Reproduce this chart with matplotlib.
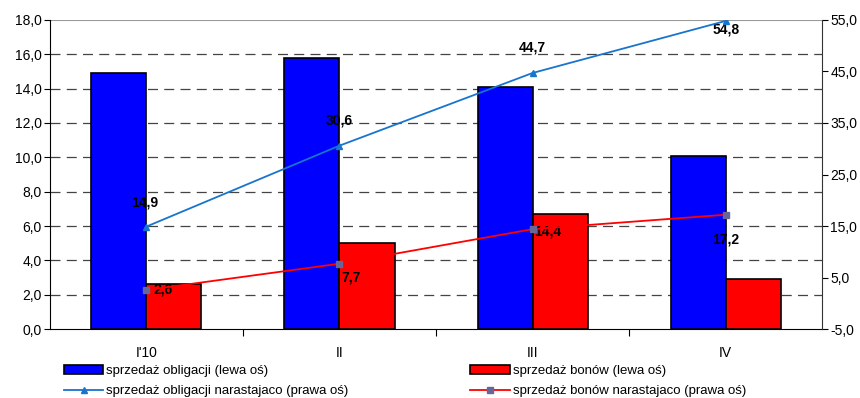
import numpy as np
import matplotlib.pyplot as plt

# Dane
kwartaly = ["I'10", "II", "III", "IV"]
obligacje = [14.9, 15.8, 14.1, 10.1]
bony = [2.6, 5.0, 6.7, 2.9]
obligacje_nar = [14.9, 30.6, 44.7, 54.8]
bony_nar = [2.6, 7.7, 14.4, 17.2]

# przesunięcia etykiet (w punktach)
off_obl = [(-1, 17), (0, 18), (0, 18), (0, -6)]
off_bon = [(12, 0), (8, -10), (11, -2), (0, -18)]

plt.rcParams['font.family'] = ['Liberation Sans', 'DejaVu Sans']

fig = plt.figure(figsize=(8.6, 3.98), dpi=100)
ax = fig.add_axes([0.058, 0.173, 0.898, 0.777])
ax2 = ax.twinx()

x = np.arange(len(kwartaly))
w = 0.285

b1 = ax.bar(x - w / 2, obligacje, w, color='#0000FF', edgecolor='black', linewidth=1.2,
            label='sprzedaż obligacji (lewa oś)', zorder=3)
b2 = ax.bar(x + w / 2, bony, w, color='#FF0000', edgecolor='black', linewidth=1.2,
            label='sprzedaż bonów (lewa oś)', zorder=3)

ax.set_xlim(-0.5, 3.5)
ax.set_ylim(0, 18)
ax.set_yticks(np.arange(0, 18.1, 2))
ax.set_yticklabels([('%.1f' % v).replace('.', ',') for v in np.arange(0, 18.1, 2)], fontsize=10)

for v in np.arange(2, 17, 2):
    ax.axhline(v, color='#444444', linestyle=(0, (8, 5)), linewidth=0.9, zorder=1)
ax.axhline(18, color='#999999', linewidth=1.5, zorder=1)

# granice kategorii jako znaczniki, etykiety na środku
ax.set_xticks([0.5, 1.5, 2.5])
ax.set_xticklabels([])
ax.tick_params(axis='x', which='major', length=5, direction='out')
ax.set_xticks(x, minor=True)
ax.set_xticklabels(kwartaly, minor=True, fontsize=10)
ax.tick_params(axis='x', which='minor', length=0, pad=12)
ax.tick_params(axis='y', length=4, direction='out', pad=2)

ax.spines['top'].set_visible(False)
ax.spines['right'].set_visible(False)
ax2.spines['top'].set_visible(False)
ax2.spines['left'].set_visible(False)
ax2.spines['bottom'].set_visible(False)
ax2.spines['right'].set_color('#333333')

ax2.set_ylim(-5, 55)
rt = np.arange(-5, 55.1, 10)
ax2.set_yticks(rt)
ax2.set_yticklabels([('%.1f' % v).replace('.', ',') for v in rt], fontsize=10)
ax2.tick_params(axis='y', length=4, direction='out', pad=2)

l1, = ax2.plot(x, obligacje_nar, color='#1874CD', linewidth=1.3, marker='^', markersize=5,
               label='sprzedaż obligacji narastajaco (prawa oś)', zorder=4)
l2, = ax2.plot(x, bony_nar, color='#FF0000', linewidth=1.3, marker='s', markersize=5,
               markerfacecolor='#666699', markeredgecolor='#666699',
               label='sprzedaż bonów narastajaco (prawa oś)', zorder=4)

for i in range(len(x)):
    ax2.annotate(('%.1f' % obligacje_nar[i]).replace('.', ','), (x[i], obligacje_nar[i]),
                 xytext=off_obl[i], textcoords='offset points', ha='center', va='center',
                 fontsize=10, fontweight='bold')
    ax2.annotate(('%.1f' % bony_nar[i]).replace('.', ','), (x[i], bony_nar[i]),
                 xytext=off_bon[i], textcoords='offset points', ha='center', va='center',
                 fontsize=10, fontweight='bold')

fig.legend([b1, l1, b2, l2], [b1.get_label(), l1.get_label(), b2.get_label(), l2.get_label()],
           ncol=2, loc='lower left', bbox_to_anchor=(0.065, -0.018), frameon=False, fontsize=9.5,
           handlelength=3.0, handletextpad=0.2, columnspacing=9.25, labelspacing=0.6,
           borderaxespad=0.2)

fig.savefig('out.png', dpi=100)
